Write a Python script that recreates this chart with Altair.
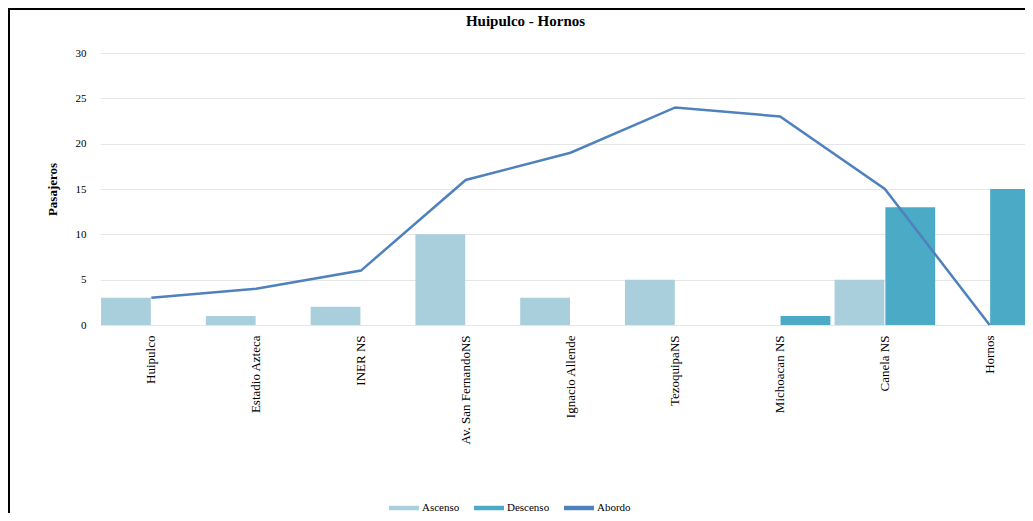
import altair as alt
import pandas as pd

estaciones = ["Huipulco", "Estadio Azteca", "INER NS", "Av. San FernandoNS",
              "Ignacio Allende", "TezoquipaNS", "Michoacan NS", "Canela NS", "Hornos"]
ascenso = [3, 1, 2, 10, 3, 5, 0, 5, 0]
descenso = [0, 0, 0, 0, 0, 0, 1, 13, 15]
abordo = [3, 4, 6, 16, 19, 24, 23, 15, 0]

series = ["Ascenso", "Descenso", "Abordo"]
colores = ["#a9cfdd", "#4babc6", "#4f81bd"]

rows = []
for e, a, d in zip(estaciones, ascenso, descenso):
    rows.append({"estacion": e, "serie": "Ascenso", "valor": a})
    rows.append({"estacion": e, "serie": "Descenso", "valor": d})
bars_df = pd.DataFrame(rows)
line_df = pd.DataFrame({"estacion": estaciones, "valor": abordo})

FONT = "Liberation Serif"

xscale = alt.Scale(range=[0, 941], paddingInner=0.04, paddingOuter=0.01)
xenc = alt.X("estacion:N", sort=estaciones, scale=xscale,
             axis=alt.Axis(title=None, labelAngle=270, labelFont=FONT, labelFontSize=13,
                           labelColor="#000000", labelPadding=10, ticks=False, domain=False,
                           labelLimit=300))
yenc = alt.Y("valor:Q", scale=alt.Scale(domain=[0, 30], nice=False),
             axis=alt.Axis(title="Pasajeros", values=[0, 5, 10, 15, 20, 25, 30],
                           labelFont=FONT, labelFontSize=11, labelColor="#000000",
                           labelPadding=14, ticks=False, domain=False,
                           titleFont=FONT, titleFontSize=13, titleFontWeight="bold",
                           titleColor="#000000", titlePadding=16,
                           gridColor="#e6e6e6", gridWidth=1))

bars = alt.Chart(bars_df).mark_bar(clip=False).encode(
    x=xenc,
    xOffset=alt.XOffset("serie:N", sort=["Ascenso", "Descenso"],
                        scale=alt.Scale(paddingInner=0.02)),
    y=yenc,
    color=alt.Color("serie:N",
                    scale=alt.Scale(domain=series, range=colores),
                    legend=alt.Legend(title=None, orient="none", direction="horizontal",
                                      legendX=289, legendY=440,
                                      symbolType="M-1,-0.15H1V0.15H-1Z",
                                      symbolSize=900, symbolStrokeWidth=0,
                                      labelFont=FONT, labelFontSize=11,
                                      labelColor="#000000", labelOffset=3,
                                      columnPadding=14)),
)

line = alt.Chart(line_df).mark_line(color="#4f81bd", strokeWidth=2.5, clip=False).encode(
    x=alt.X("estacion:N", sort=estaciones),
    y=alt.Y("valor:Q"),
)

frame = alt.Chart(pd.DataFrame({"a": [0]})).mark_rect(
    fillOpacity=0, stroke="#000000", strokeWidth=2, clip=False
).encode(x=alt.value(-91), x2=alt.value(1200), y=alt.value(-44), y2=alt.value(700))

chart = alt.layer(bars, line, frame).properties(
    width=925, height=272,
    title=alt.TitleParams(text="Huipulco - Hornos", font=FONT, fontSize=15,
                          fontWeight="bold", color="#000000", anchor="middle",
                          frame="group", dx=-37, offset=-21),
    padding={"left": 92, "top": 45, "right": 0, "bottom": 188},
    autosize=alt.AutoSizeParams(type="none"),
).configure_view(stroke=None)

chart.save("out.html", embed_options={"renderer": "svg", "actions": False})
